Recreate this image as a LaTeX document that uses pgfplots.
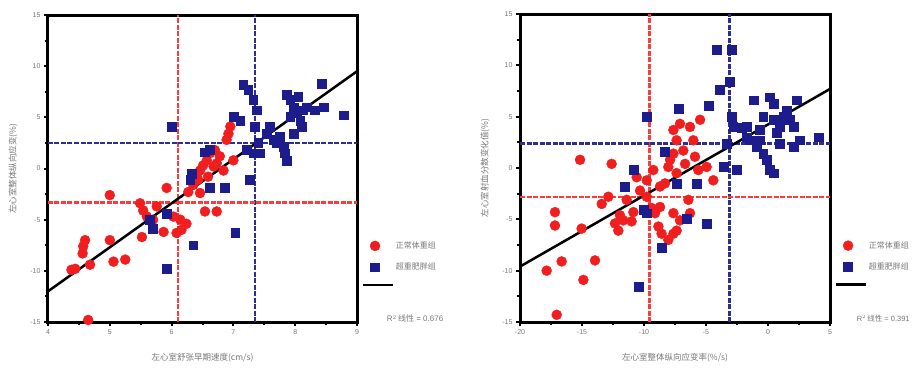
\documentclass[border=0pt]{standalone}
\usepackage{pgfplots}
\pgfplotsset{compat=1.18}
\usepackage{fontspec}
\setmainfont{Liberation Sans}
\newfontfamily\cjk{Noto Sans CJK SC}
\definecolor{ptred}{RGB}{240,30,30}
\definecolor{ptblue}{RGB}{28,28,140}
\definecolor{lnred}{RGB}{250,60,60}
\definecolor{lnblue}{RGB}{45,45,150}
\definecolor{txt}{RGB}{120,120,120}
\pgfplotsset{
  myax/.style={
    scale only axis,
    axis line style={line width=3pt},
    tick align=outside,
    major tick length=4pt, minor tick length=3pt,
    every tick/.style={black, line width=2pt},
    minor x tick num=1, minor y tick num=1,
    xtick pos=bottom, ytick pos=left,
    tick label style={font=\fontsize{7}{8}\selectfont, text=txt},
    /pgf/number format/assume math mode=true,
    label style={font=\cjk\fontsize{8.5}{10}\selectfont, text=txt},
    xlabel style={yshift=-12pt},
    ylabel style={yshift=6pt},
    legend style={draw=none, fill=none, font=\cjk\fontsize{8}{9}\selectfont, text=txt,
      row sep=9pt, legend cell align=left, inner xsep=1pt},
    clip=false,
  },
  redpts/.style={only marks, mark=*, mark size=5pt, color=ptred, mark options={draw=ptred, fill=ptred}},
  bluepts/.style={only marks, mark=square*, mark size=4.4pt, color=ptblue, mark options={draw=ptblue, fill=ptblue}},
  rline/.style={lnred, line width=2.5pt, dash pattern=on 5pt off 1.5pt, forget plot},
  bline/.style={lnblue, line width=2.5pt, dash pattern=on 5pt off 1.5pt, forget plot},
  fitline/.style={black, line width=2.5pt, legend image code/.code={\draw[black, line width=2.5pt] (-4pt,0pt) -- (26pt,0pt);}},
}
\begin{document}
\begin{tikzpicture}
\path[use as bounding box] (0pt,0pt) rectangle (917pt,376pt);
% ---------------- left panel ----------------
\begin{axis}[myax,
  at={(48pt,54pt)}, anchor=south west, width=309pt, height=307pt,
  xmin=4, xmax=9, ymin=-15, ymax=15,
  xtick={4,5,6,7,8,9}, ytick={-15,-10,-5,0,5,10,15},
  xlabel={左心室舒张早期速度(cm/s)},
  ylabel={左心室整体纵向应变(\%)},
  legend style={at={(1.01,0.275)}, anchor=north west},
]
\addplot[rline] coordinates {(6.10,-15) (6.10,15)};
\addplot[bline] coordinates {(7.35,-15) (7.35,15)};
\addplot[rline] coordinates {(4,-3.3) (9,-3.3)};
\addplot[bline] coordinates {(4,2.5) (9,2.5)};
\addplot[redpts] coordinates {
(4.65,-14.8) (4.60,-7.0) (4.57,-7.6) (4.56,-8.3) (4.44,-9.8) (4.38,-9.9) (4.68,-9.4)
(5.00,-7.0) (5.00,-2.6) (5.06,-9.1) (5.25,-8.9) (5.49,-3.4) (5.54,-4.1) (5.60,-4.7)
(5.52,-6.7) (5.70,-5.0) (5.76,-3.7) (5.92,-1.9) (5.87,-6.2) (6.03,-4.7) (6.14,-5.0)
(6.16,-6.0) (6.24,-5.4) (6.08,-6.3) (6.27,-2.3) (6.35,-1.6) (6.43,-1.1) (6.46,-0.2)
(6.51,0.3) (6.57,0.8) (6.62,1.5) (6.70,1.8) (6.78,1.2) (6.73,0.5) (6.89,2.8)
(6.95,4.1) (6.92,3.4) (6.54,-4.2) (6.73,-4.2) (6.46,-2.4) (6.41,-0.5) (6.68,0.2)
(6.84,-0.2) (6.59,-0.8) (7.00,0.8)
};
\addlegendentry{正常体重组}
\addplot[bluepts] coordinates {
(5.92,-9.8) (6.00,4.1) (6.35,-7.5) (6.32,-0.5) (6.30,-1.1) (6.54,1.6) (6.62,-1.9)
(6.86,-1.9) (7.03,-6.3) (7.00,5.1) (7.11,4.7) (7.16,8.2) (7.24,7.7) (7.27,-1.1)
(7.32,6.7) (7.38,5.7) (7.35,4.1) (7.40,2.5) (7.43,1.5) (7.54,3.4) (7.59,4.1)
(7.65,2.8) (7.70,2.5) (7.75,3.1) (7.81,2.1) (7.86,0.8) (7.83,1.5) (7.86,7.2)
(7.92,6.7) (7.97,6.0) (8.02,5.4) (8.05,7.0) (8.08,4.7) (8.10,4.1) (8.13,5.7)
(8.19,6.0) (8.32,5.7) (8.43,8.3) (8.46,6.0) (8.78,5.2) (7.97,3.4) (7.92,5.1)
(5.70,-5.9) (5.92,-4.4) (5.65,-5.0) (6.62,1.8) (7.21,1.8) (7.32,1.5)
};
\addlegendentry{超重肥胖组}
\addplot[fitline] coordinates {(4,-12.0) (9,9.5)};
\addlegendentry{}
\node[font=\fontsize{8}{9}\selectfont, text=txt, anchor=west] at (rel axis cs:1.085,0.01) {R$^2$\,{\cjk 线性} = 0.676};
\end{axis}
% ---------------- right panel ----------------
\begin{axis}[myax,
  at={(520pt,54pt)}, anchor=south west, width=310pt, height=308pt,
  xmin=-20, xmax=5, ymin=-15, ymax=15,
  xtick={-20,-15,-10,-5,0,5}, ytick={-15,-10,-5,0,5,10,15},
  xlabel={左心室整体纵向应变率(\%/s)},
  ylabel={左心室射血分数变化值(\%)},
  legend style={at={(1.01,0.275)}, anchor=north west},
]
\addplot[rline] coordinates {(-9.57,-15) (-9.57,15)};
\addplot[bline] coordinates {(-3.12,-15) (-3.12,15)};
\addplot[rline] coordinates {(-20,-2.8) (5,-2.8)};
\addplot[bline] coordinates {(-20,2.4) (5,2.4)};
\addplot[redpts] coordinates {
(-17.04,-14.3) (-17.85,-10.0) (-16.64,-9.1) (-14.89,-10.9) (-13.95,-9.0) (-17.18,-4.3)
(-17.18,-5.6) (-15.16,0.8) (-12.61,0.4) (-15.03,-5.9) (-13.41,-3.5) (-12.88,-2.8)
(-12.34,-5.4) (-12.07,-6.1) (-11.94,-4.6) (-11.67,-5.1) (-11.40,-3.1) (-11.00,-5.2)
(-10.86,-4.3) (-10.59,-0.9) (-10.32,-2.2) (-9.78,-2.8) (-9.38,-3.9) (-9.11,-4.4)
(-8.71,-3.8) (-8.84,-5.7) (-8.58,-6.4) (-8.04,-7.0) (-7.63,-6.4) (-7.37,-6.1)
(-7.10,-5.1) (-7.63,-4.4) (-8.71,-1.8) (-9.25,-0.2) (-8.31,-1.5) (-7.90,0.8)
(-7.63,3.7) (-7.37,2.7) (-7.10,4.3) (-6.83,1.7) (-6.29,4.0) (-6.02,2.7) (-5.48,4.7)
(-5.89,1.1) (-5.62,-0.2) (-4.95,0.1) (-4.41,-1.2) (-6.29,-4.4) (-6.42,-3.1)
(-8.04,0.1) (-7.37,-0.5) (-6.69,0.4) (-7.63,1.4) (-9.78,-1.2)
};
\addlegendentry{正常体重组}
\addplot[bluepts] coordinates {
(-10.46,-11.6) (-9.78,5.0) (-8.58,-7.8) (-8.31,1.6) (-10.86,-0.2) (-11.53,-1.8)
(-10.05,-4.1) (-7.23,5.8) (-6.56,-4.9) (-5.75,-1.5) (-4.95,-5.4) (-4.81,6.1)
(-4.14,11.5) (-2.93,11.5) (-3.87,7.6) (-3.06,8.4) (-2.93,5.0) (-3.60,0.1)
(-2.53,-0.2) (-3.33,2.4) (-2.80,4.0) (-2.12,3.9) (-1.72,3.0) (-1.18,6.6)
(-0.91,2.1) (-0.65,2.7) (-0.38,1.4) (-0.11,0.8) (0.16,-0.2) (0.43,-0.5)
(0.16,6.9) (0.43,6.3) (0.70,3.4) (0.97,4.0) (1.24,5.0) (1.51,5.6) (1.77,4.7)
(2.04,2.1) (2.31,6.6) (2.58,2.7) (4.06,3.0) (0.43,4.7) (-0.38,5.0) (-1.45,2.7)
(-0.65,3.7) (0.97,2.4) (2.04,4.0) (-1.72,4.0) (-7.37,-1.5) (-9.78,-4.4)
};
\addlegendentry{超重肥胖组}
\addplot[fitline] coordinates {(-20,-9.6) (5,7.7)};
\addlegendentry{}
\node[font=\fontsize{7.5}{9}\selectfont, text=txt, anchor=west] at (rel axis cs:1.075,0.01) {R$^2$\,{\cjk 线性} = 0.391};
\end{axis}
\end{tikzpicture}
\end{document}
